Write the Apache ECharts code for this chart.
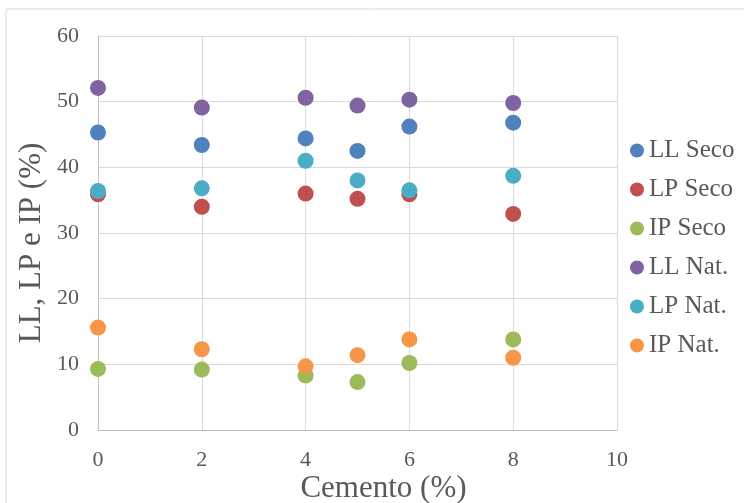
<!DOCTYPE html>
<html>
<head>
<meta charset="utf-8">
<script src="https://cdn.jsdelivr.net/npm/echarts@6/dist/echarts.min.js"></script>
<style>
  html, body { margin: 0; padding: 0; background: #fff; }
  #chart { width: 744px; height: 503px; }
</style>
</head>
<body>
<div id="chart"></div>
<script>
// Cement content (%) on the x axis
const cemento = [0, 2, 4, 5, 6, 8];

// Atterberg limits, dry preparation
const llSeco = [45.3, 43.4, 44.4, 42.5, 46.2, 46.8];
const lpSeco = [35.9, 34.0, 36.0, 35.2, 35.9, 32.9];
const ipSeco = [9.3, 9.2, 8.3, 7.3, 10.2, 13.8];

// Atterberg limits, natural moisture
const llNat = [52.1, 49.1, 50.6, 49.4, 50.3, 49.8];
const lpNat = [36.4, 36.8, 41.0, 38.0, 36.5, 38.7];
const ipNat = [15.6, 12.3, 9.7, 11.4, 13.8, 11.0];

const seriesNames = ['LL Seco', 'LP Seco', 'IP Seco', 'LL Nat.', 'LP Nat.', 'IP Nat.'];
const seriesValues = [llSeco, lpSeco, ipSeco, llNat, lpNat, ipNat];
const colors = ['#4f81bd', '#c0504d', '#9bbb59', '#8064a2', '#4bacc6', '#f79646'];

const font = '"Liberation Serif", "Times New Roman", serif';

const chart = echarts.init(document.getElementById('chart'), null, { renderer: 'canvas' });

chart.setOption({
  backgroundColor: '#ffffff',
  animation: false,
  color: colors,
  graphic: [{
    type: 'rect',
    shape: { x: 6, y: 9, width: 760, height: 520 },
    style: { fill: 'none', stroke: '#d9d9d9', lineWidth: 1 },
    silent: true
  }],
  grid: { left: 98, right: 127, top: 36, bottom: 73, outerBoundsMode: 'none', containLabel: false },
  legend: {
    orient: 'vertical',
    left: 625,
    top: 133,
    icon: 'circle',
    itemWidth: 14,
    itemHeight: 14,
    itemGap: 14,
    textStyle: { fontFamily: font, fontSize: 25, color: '#595959' },
    data: seriesNames
  },
  xAxis: {
    type: 'value',
    min: 0, max: 10, interval: 2,
    name: 'Cemento (%)',
    nameLocation: 'middle',
    nameGap: 43,
    nameMoveOverlap: false,
    nameTextStyle: { fontFamily: font, fontSize: 31, color: '#595959', padding: [0, 0, 0, 52] },
    axisLine: { show: true, lineStyle: { color: '#bfbfbf', width: 1 } },
    axisTick: { show: false },
    axisLabel: { fontFamily: font, fontSize: 22, color: '#595959', margin: 19 },
    splitLine: { show: true, lineStyle: { color: '#d9d9d9', width: 1 } }
  },
  yAxis: {
    type: 'value',
    min: 0, max: 60, interval: 10,
    name: 'LL, LP e IP (%)',
    nameLocation: 'middle',
    nameGap: 51,
    nameMoveOverlap: false,
    nameTextStyle: { fontFamily: font, fontSize: 31, color: '#595959', padding: [0, 20, 0, 0] },
    axisLine: { show: true, lineStyle: { color: '#bfbfbf', width: 1 } },
    axisTick: { show: false },
    axisLabel: { fontFamily: font, fontSize: 22, color: '#595959', margin: 19 },
    splitLine: { show: true, lineStyle: { color: '#d9d9d9', width: 1 } }
  },
  series: seriesNames.map((name, i) => ({
    name: name,
    type: 'scatter',
    symbol: 'circle',
    symbolSize: 16,
    itemStyle: { color: colors[i], opacity: 1 },
    data: cemento.map((x, j) => [x, seriesValues[i][j]])
  }))
});
</script>
</body>
</html>
